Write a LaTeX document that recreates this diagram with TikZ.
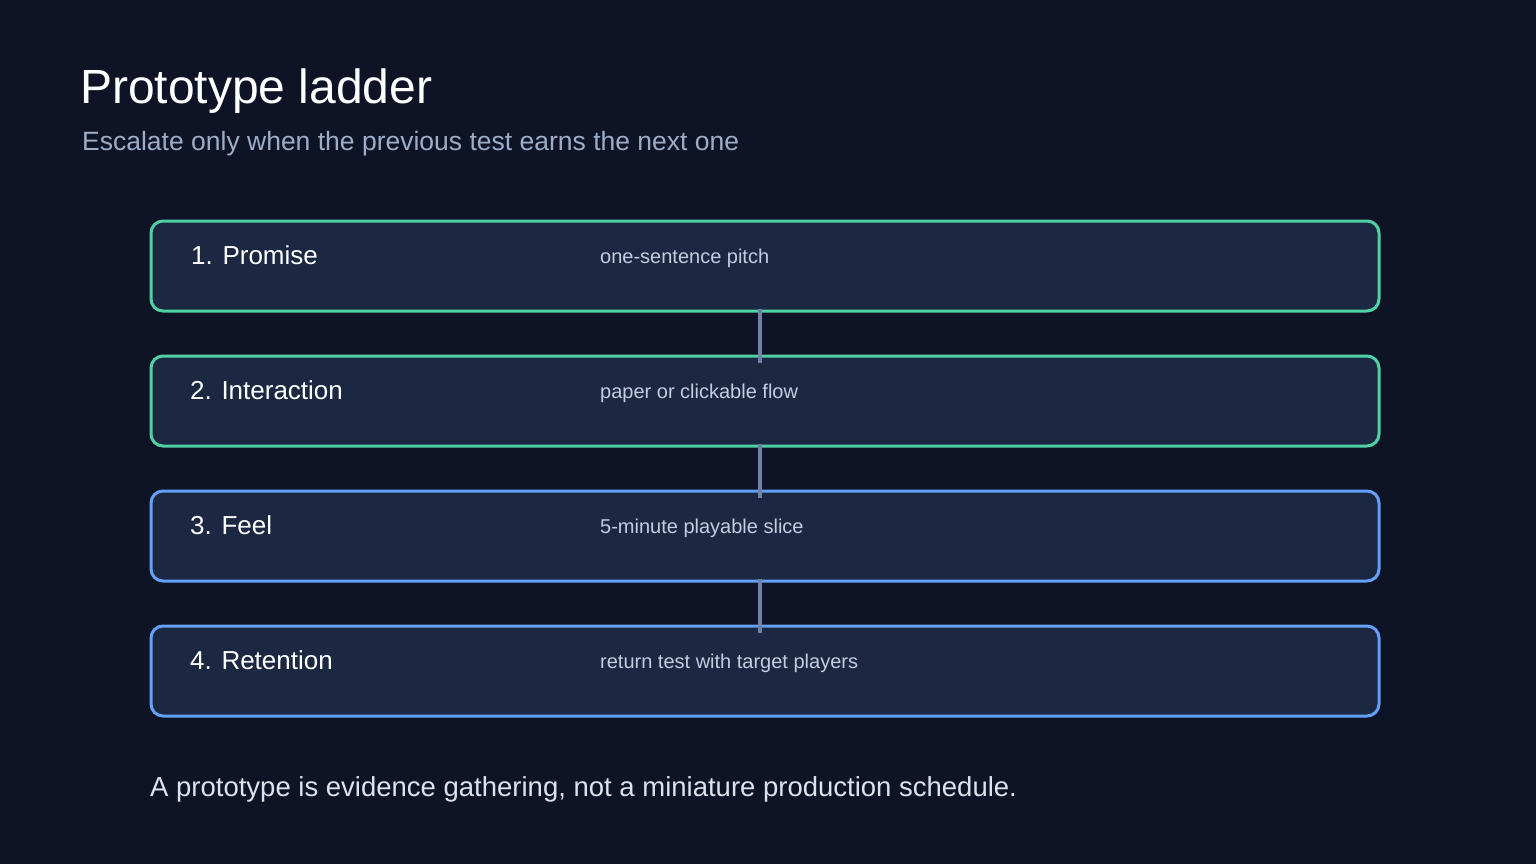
\documentclass[tikz,border=0pt]{standalone}
\usepackage{fontspec}
\setmainfont{Liberation Sans}
\definecolor{bg}{HTML}{0E1326}
\definecolor{boxfill}{HTML}{1C2742}
\definecolor{green}{HTML}{4FD1A5}
\definecolor{blue}{HTML}{63A0F7}
\definecolor{conn}{HTML}{6F82A6}
\definecolor{sub}{HTML}{9EADC8}
\definecolor{desc}{HTML}{C3CDDF}
\definecolor{foot}{HTML}{DCE3EE}
\begin{document}
\begin{tikzpicture}[x=1pt,y=-1pt,
  step/.style={draw=#1,line width=3pt,fill=boxfill,rounded corners=12pt,minimum width=1228pt,minimum height=90pt,inner sep=0pt},
  lab/.style={anchor=base west,text=white,font=\fontsize{26}{30}\selectfont,inner sep=0pt},
  dsc/.style={anchor=base west,text=desc,font=\fontsize{20}{24}\selectfont,inner sep=0pt},
  link/.style={conn,line width=4pt}]
\fill[bg] (0,0) rectangle (1536,864);
\useasboundingbox (0,0) rectangle (1536,864);
\node[anchor=base west,inner sep=0pt,text=white,font=\fontsize{48}{56}\selectfont] (title) at (80,104) {Prototype ladder};
\node[anchor=base west,inner sep=0pt,text=sub,font=\fontsize{26.5}{32}\selectfont] (subtitle) at (82,150) {Escalate only when the previous test earns the next one};
\node[step=green] (s1) at (765,266) {};
\node[step=green] (s2) at (765,401) {};
\node[step=blue] (s3) at (765,536) {};
\node[step=blue] (s4) at (765,671) {};
\node[lab] (l1) at (191,264) {1. Promise};
\node[lab] (l2) at (190,399) {2. Interaction};
\node[lab] (l3) at (190,534) {3. Feel};
\node[lab] (l4) at (190,669) {4. Retention};
\node[dsc] (d1) at (600,263) {one-sentence pitch};
\node[dsc] (d2) at (600,398) {paper or clickable flow};
\node[dsc] (d3) at (600,533) {5-minute playable slice};
\node[dsc] (d4) at (600,668) {return test with target players};
\draw[link] ([xshift=-5pt,yshift=4pt]s1.south) -- ([xshift=-5pt,yshift=-8pt]s2.north);
\draw[link] ([xshift=-5pt,yshift=4pt]s2.south) -- ([xshift=-5pt,yshift=-8pt]s3.north);
\draw[link] ([xshift=-5pt,yshift=4pt]s3.south) -- ([xshift=-5pt,yshift=-8pt]s4.north);
\node[anchor=base west,inner sep=0pt,text=foot,font=\fontsize{27.5}{32}\selectfont] (footer) at (150,796) {A prototype is evidence gathering, not a miniature production schedule.};
\end{tikzpicture}
\end{document}
